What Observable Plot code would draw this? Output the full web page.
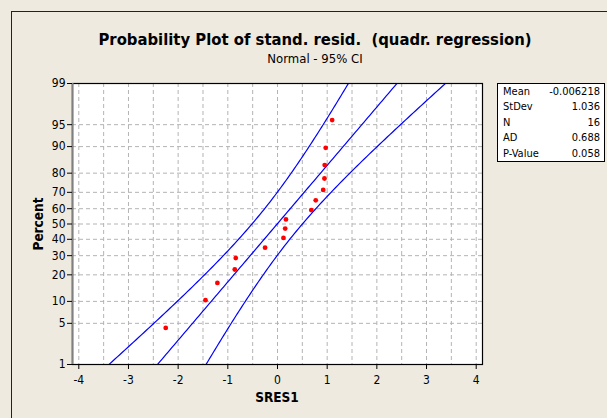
<!DOCTYPE html>
<html><head><meta charset="utf-8">
<script src="https://cdn.jsdelivr.net/npm/d3@7"></script>
<script src="https://cdn.jsdelivr.net/npm/@observablehq/plot@0.6"></script>
<style>
html,body{margin:0;padding:0;background:#EEEAE0;}
#wrap{position:relative;width:607px;height:418px;overflow:hidden;background:#EEEAE0;font-family:"DejaVu Sans Condensed","DejaVu Sans",sans-serif;color:#000;}
#border{position:absolute;left:11px;top:11px;width:700px;height:500px;border-left:1.5px solid #222;border-top:1.5px solid #222;}
#chart{position:absolute;left:0;top:0;}
.t{position:absolute;white-space:nowrap;}
#title{left:0;width:630px;text-align:center;top:30px;font-weight:bold;font-size:16.5px;}
#subtitle{left:0;width:630px;text-align:center;top:51px;font-size:13px;}
#xlab{left:227px;width:100px;text-align:center;top:389px;font-weight:bold;font-size:13.5px;}
#ylab{left:38px;top:224px;transform:translate(-50%,-50%) rotate(-90deg);font-weight:bold;font-size:13.5px;}
#stats{position:absolute;left:497px;top:83px;width:106px;height:77px;background:#fff;border:1px solid #000;font-size:11px;}
.row{position:absolute;left:5px;right:4px;height:14px;}
.row .k{position:absolute;left:0;}
.row .v{position:absolute;right:0;}
</style>
</head><body>
<div id="wrap">
  <div id="border"></div>
  <div id="chart"></div>
  <div class="t" id="title">Probability Plot of stand. resid.&nbsp; (quadr. regression)</div>
  <div class="t" id="subtitle">Normal - 95% CI</div>
  <div class="t" id="xlab">SRES1</div>
  <div class="t" id="ylab">Percent</div>
  <div id="stats"></div>
</div>
<script>
// ---- data ----
const sres = [-2.25, -1.45, -1.21, -0.86, -0.84, -0.25, 0.12, 0.155, 0.17, 0.68, 0.77, 0.92, 0.945, 0.95, 0.97, 1.10];
const percentTicks = [1, 5, 10, 20, 30, 40, 50, 60, 70, 80, 90, 95, 99];
const xTicks = [-4, -3, -2, -1, 0, 1, 2, 3, 4];
const xGrid = [-4, -3.5, -3, -2.5, -2, -1.5, -1, -0.5, 0, 0.5, 1, 1.5, 2, 2.5, 3, 3.5, 4];
const statLabels = ["Mean", "StDev", "N", "AD", "P-Value"];
const statValues = ["-0.006218", "1.036", "16", "0.688", "0.058"];
const fitMean = -0.006218;
const fitSd = 1.036;
const nObs = 16;

// inverse standard normal CDF (Acklam)
function qnorm(p) {
  const a = [-3.969683028665376e+01, 2.209460984245205e+02, -2.759285104469687e+02, 1.383577518672690e+02, -3.066479806614716e+01, 2.506628277459239e+00];
  const b = [-5.447609879822406e+01, 1.615858368580409e+02, -1.556989798598866e+02, 6.680131188771972e+01, -1.328068155288572e+01];
  const c = [-7.784894002430293e-03, -3.223964580411365e-01, -2.400758277161838e+00, -2.549732539343734e+00, 4.374664141464968e+00, 2.938163982698783e+00];
  const d = [7.784695709041462e-03, 3.224671290700398e-01, 2.445134137142996e+00, 3.754408661907416e+00];
  const pl = 0.02425, ph = 1 - pl;
  let q, r;
  if (p < pl) { q = Math.sqrt(-2 * Math.log(p)); return (((((c[0]*q+c[1])*q+c[2])*q+c[3])*q+c[4])*q+c[5]) / ((((d[0]*q+d[1])*q+d[2])*q+d[3])*q+1); }
  if (p > ph) { q = Math.sqrt(-2 * Math.log(1 - p)); return -(((((c[0]*q+c[1])*q+c[2])*q+c[3])*q+c[4])*q+c[5]) / ((((d[0]*q+d[1])*q+d[2])*q+d[3])*q+1); }
  q = p - 0.5; r = q * q;
  return (((((a[0]*r+a[1])*r+a[2])*r+a[3])*r+a[4])*r+a[5])*q / (((((b[0]*r+b[1])*r+b[2])*r+b[3])*r+b[4])*r+1);
}

const sorted = sres.slice().sort((a, b) => a - b);
const points = sorted.map((x, i) => ({x, z: qnorm((i + 1 - 0.3) / (nObs + 0.4))}));
const yTickZ = percentTicks.map(p => qnorm(p / 100));
const yGridZ = percentTicks.slice(1, -1).map(p => qnorm(p / 100));

// fitted line and 95% CI bands
const zs = d3.range(-3.2, 3.2001, 0.04);
const fit = [];
for (const z of zs) {
  const c = fitMean + fitSd * z;
  const h = 1.96 * fitSd * Math.sqrt((1 + z * z / 2) / nObs);
  fit.push({band: "lo", x: c - h, z});
  fit.push({band: "mid", x: c, z});
  fit.push({band: "hi", x: c + h, z});
}

const plot = Plot.plot({
  width: 607,
  height: 418,
  marginLeft: 72,
  marginRight: 125,
  marginTop: 83,
  marginBottom: 54,
  style: {background: "transparent", fontFamily: "'DejaVu Sans Condensed','DejaVu Sans',sans-serif", fontSize: "12px", color: "#000"},
  x: {domain: [-4.127, 4.127], label: null},
  y: {domain: [qnorm(0.01), qnorm(0.99)], label: null},
  marks: [
    Plot.frame({fill: "white", stroke: null}),
    Plot.ruleX(xGrid, {stroke: "#b4b4b4", strokeDasharray: "4,3"}),
    Plot.ruleY(yGridZ, {stroke: "#b4b4b4", strokeDasharray: "4,3"}),
    Plot.line(fit, {x: "x", y: "z", z: "band", stroke: "#0000ff", strokeWidth: 1.2, clip: true}),
    Plot.dot(points, {x: "x", y: "z", r: 2.4, fill: "#ff0000", stroke: null}),
    Plot.frame({stroke: "#000", strokeWidth: 1.2}),
    Plot.ruleX([-4.127], {stroke: "#808080", strokeWidth: 2}),
    Plot.axisX({ticks: xTicks, tickSize: 5, tickPadding: 6, tickFormat: d => d < 0 ? "-" + (-d) : String(d), stroke: "#000"}),
    Plot.axisY({ticks: yTickZ, tickSize: 5, tickPadding: 2, tickFormat: z => percentTicks[yTickZ.indexOf(z)], stroke: "#000"})
  ]
});
document.getElementById("chart").appendChild(plot);

const stats = document.getElementById("stats");
statLabels.forEach((k, i) => {
  const row = document.createElement("div");
  row.className = "row";
  row.style.top = (1 + i * 15.4) + "px";
  row.innerHTML = `<span class="k">${k}</span><span class="v">${statValues[i]}</span>`;
  stats.appendChild(row);
});
</script>
</body></html>
